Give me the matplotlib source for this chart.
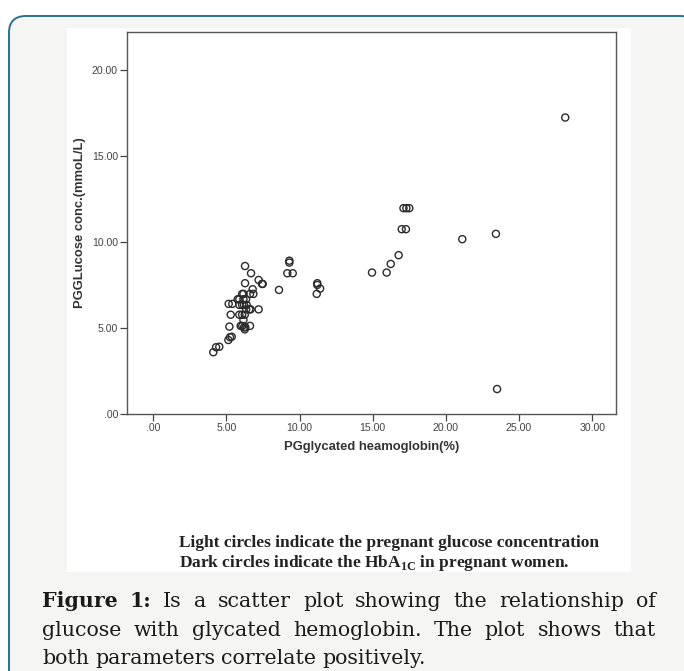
import matplotlib
matplotlib.use("Agg")
import matplotlib.pyplot as plt
from matplotlib.patches import FancyBboxPatch, Rectangle

W, H = 684, 671

# HbA1c (%) vs glucose (mmol/L)
hba1c = [4.10, 4.29, 4.51, 5.13, 5.24, 5.36, 5.20, 5.29, 5.15, 5.40, 5.88, 5.77,
         6.07, 6.16, 6.84, 6.61, 6.16, 6.34, 5.88, 6.07, 6.20, 6.38, 6.34, 6.56,
         6.65, 5.88, 6.07, 6.25, 6.16, 5.97, 6.08, 6.20, 6.29, 6.25, 6.61,
         6.27, 6.68, 6.27, 6.79, 7.20, 7.43, 7.48, 7.20, 8.59, 9.30, 9.30, 9.16,
         9.53, 11.21, 11.21, 11.40, 11.17, 14.95, 15.95, 16.23, 16.77, 17.10,
         17.30, 17.50, 16.98, 17.27, 21.12, 23.42, 28.16, 23.50]
glucose = [3.59, 3.88, 3.91, 4.30, 4.46, 4.49, 5.08, 5.77, 6.40, 6.40, 6.67, 6.67,
           6.98, 6.98, 6.98, 6.98, 6.67, 6.67, 6.34, 6.34, 6.34, 6.34, 6.08, 6.08,
           6.08, 5.77, 5.77, 5.77, 5.47, 5.12, 5.12, 5.04, 5.04, 4.92, 5.12,
           8.60, 8.18, 7.60, 7.25, 7.79, 7.56, 7.56, 6.08, 7.21, 8.91, 8.80, 8.18,
           8.18, 7.60, 7.50, 7.29, 6.98, 8.22, 8.22, 8.72, 9.23, 11.96,
           11.96, 11.96, 10.74, 10.74, 10.16, 10.47, 17.23, 1.45]

x_ticks = [0, 5, 10, 15, 20, 25, 30]
x_labels = [".00", "5.00", "10.00", "15.00", "20.00", "25.00", "30.00"]
y_ticks = [0, 5, 10, 15, 20]
y_labels = [".00", "5.00", "10.00", "15.00", "20.00"]

x_title = "PGglycated heamoglobin(%)"
y_title = "PGGLucose conc.(mmoL/L)"
note1 = "Light circles indicate the pregnant glucose concentration"
note2 = r"Dark circles indicate the HbA$_{\mathbf{1C}}$ in pregnant women."
caption = [
    [("Figure", True), ("1:", True), ("Is", False), ("a", False), ("scatter", False),
     ("plot", False), ("showing", False), ("the", False), ("relationship", False), ("of", False)],
    [("glucose", False), ("with", False), ("glycated", False), ("hemoglobin.", False),
     ("The", False), ("plot", False), ("shows", False), ("that", False)],
    [("both", False), ("parameters", False), ("correlate", False), ("positively.", False)],
]

plt.rcParams['mathtext.fontset'] = 'custom'
plt.rcParams['mathtext.bf'] = 'Liberation Serif:bold'
plt.rcParams['mathtext.rm'] = 'Liberation Serif'


def fx(px):
    return px / W


def fy(py):
    return 1 - py / H


fig = plt.figure(figsize=(W / 100, H / 100), dpi=100)
fig.patch.set_facecolor("white")

# page frame around the figure
fig.patches.append(FancyBboxPatch((fx(9), fy(690)), fx(684) - fx(9) + 0.02, fy(16) - fy(690),
                                  boxstyle="round,pad=0,rounding_size=0.025",
                                  transform=fig.transFigure, facecolor="#f5f5f4",
                                  edgecolor="#2a7289", linewidth=1.4, zorder=-3))
fig.patches.append(Rectangle((fx(67), fy(572)), fx(631) - fx(67), fy(28) - fy(572),
                             transform=fig.transFigure, facecolor="white",
                             edgecolor="none", zorder=-2))

ax = fig.add_axes([fx(127), fy(414), fx(616) - fx(127), fy(32) - fy(414)])
ax.set_zorder(1)
ax.scatter(hba1c, glucose, s=26, facecolors="none", edgecolors="#2b2b2b", linewidths=1.0)
ax.set_xlim(-1.8, 31.63)
ax.set_ylim(0, 22.2)
ax.set_xticks(x_ticks)
ax.set_xticklabels(x_labels)
ax.set_yticks(y_ticks)
ax.set_yticklabels(y_labels)
ax.tick_params(direction="out", length=5, width=0.9, color="#444444", labelsize=7.6,
               labelcolor="#444444", pad=1.5)
for lab in ax.get_xticklabels() + ax.get_yticklabels():
    lab.set_family("Liberation Sans")
for sp in ax.spines.values():
    sp.set_color("#555555")
    sp.set_linewidth(1.0)
ax.set_xlabel(x_title, fontsize=9.4, fontweight="bold", family="Liberation Sans",
              color="#333333", labelpad=6)
ax.set_ylabel(y_title, fontsize=9.4, fontweight="bold", family="Liberation Sans",
              color="#333333", labelpad=4)

fig.text(fx(179), fy(547), note1, fontsize=12.5, fontweight="bold",
         family="Liberation Serif", color="#222222", va="baseline")
fig.text(fx(179), fy(567), note2, fontsize=12.5, fontweight="bold",
         family="Liberation Serif", color="#222222", va="baseline")

# justified caption below the figure
renderer = fig.canvas.get_renderer()
baselines = [607, 635.5, 664]
for i, (words, yb) in enumerate(zip(caption, baselines)):
    texts = []
    for w, bold in words:
        t = fig.text(0, fy(yb), w, fontsize=14.8, family="DejaVu Serif",
                     fontweight="bold" if bold else "normal", color="#1a1a1a", va="baseline")
        texts.append(t)
    widths = [t.get_window_extent(renderer).width for t in texts]
    if i < len(caption) - 1:
        gap = (656 - 42 - sum(widths)) / (len(texts) - 1)
    else:
        gap = 6
    x = 42
    for t, w in zip(texts, widths):
        t.set_x(fx(x))
        x += w + gap

fig.savefig("out.png", dpi=100)
